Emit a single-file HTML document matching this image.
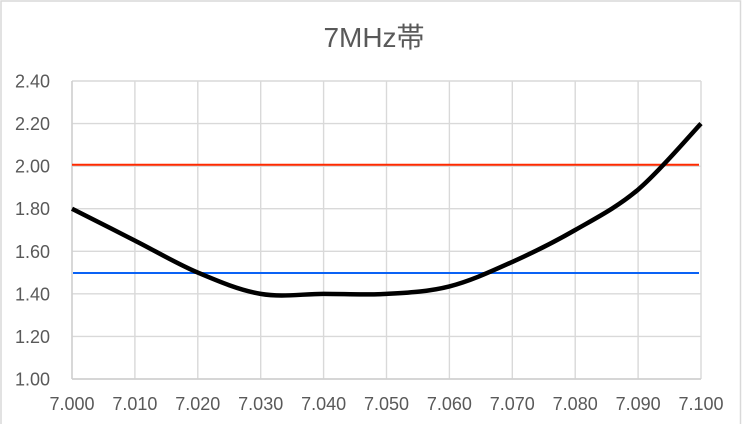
<!DOCTYPE html>
<html>
<head>
<meta charset="utf-8">
<style>
html,body{margin:0;padding:0;background:#fff;}
body{width:747px;height:424px;overflow:hidden;}
svg{display:block;}
text{font-family:"Liberation Sans","Noto Sans CJK JP",sans-serif;fill:#595959;}
</style>
</head>
<body>
<svg width="747" height="424" viewBox="0 0 747 424" xmlns="http://www.w3.org/2000/svg">
<rect x="0" y="0" width="747" height="424" fill="#fff"/>
<rect x="1" y="1" width="739.5" height="440" fill="none" stroke="#d9d9d9" stroke-width="1.5"/>
<text x="374" y="47" font-size="28" text-anchor="middle">7MHz帯</text>
<g stroke="#d9d9d9" stroke-width="1.4" fill="none">
<line x1="72" y1="81" x2="701" y2="81"/>
<line x1="72" y1="123.57" x2="701" y2="123.57"/>
<line x1="72" y1="166.14" x2="701" y2="166.14"/>
<line x1="72" y1="208.71" x2="701" y2="208.71"/>
<line x1="72" y1="251.29" x2="701" y2="251.29"/>
<line x1="72" y1="293.86" x2="701" y2="293.86"/>
<line x1="72" y1="336.43" x2="701" y2="336.43"/>
<line x1="72" y1="379" x2="701" y2="379"/>
<line x1="72" y1="81" x2="72" y2="379"/>
<line x1="134.9" y1="81" x2="134.9" y2="379"/>
<line x1="197.8" y1="81" x2="197.8" y2="379"/>
<line x1="260.7" y1="81" x2="260.7" y2="379"/>
<line x1="323.6" y1="81" x2="323.6" y2="379"/>
<line x1="386.5" y1="81" x2="386.5" y2="379"/>
<line x1="449.4" y1="81" x2="449.4" y2="379"/>
<line x1="512.3" y1="81" x2="512.3" y2="379"/>
<line x1="575.2" y1="81" x2="575.2" y2="379"/>
<line x1="638.1" y1="81" x2="638.1" y2="379"/>
<line x1="701" y1="81" x2="701" y2="379"/>
</g>
<line x1="72" y1="379" x2="701" y2="379" stroke="#cfcfcf" stroke-width="1.5"/>
<line x1="72" y1="81" x2="72" y2="379" stroke="#cfcfcf" stroke-width="1.5"/>
<g font-size="18" text-anchor="end">
<text x="50" y="87.5">2.40</text>
<text x="50" y="130.1">2.20</text>
<text x="50" y="172.6">2.00</text>
<text x="50" y="215.2">1.80</text>
<text x="50" y="257.8">1.60</text>
<text x="50" y="300.4">1.40</text>
<text x="50" y="342.9">1.20</text>
<text x="50" y="385.5">1.00</text>
</g>
<g font-size="18" text-anchor="middle">
<text x="72" y="410">7.000</text>
<text x="134.9" y="410">7.010</text>
<text x="197.8" y="410">7.020</text>
<text x="260.7" y="410">7.030</text>
<text x="323.6" y="410">7.040</text>
<text x="386.5" y="410">7.050</text>
<text x="449.4" y="410">7.060</text>
<text x="512.3" y="410">7.070</text>
<text x="575.2" y="410">7.080</text>
<text x="638.1" y="410">7.090</text>
<text x="701" y="410">7.100</text>
</g>
<line x1="72" y1="164.8" x2="699" y2="164.8" stroke="#ff2a00" stroke-width="2"/>
<line x1="73" y1="273" x2="699" y2="273" stroke="#0a62f5" stroke-width="2"/>
<path d="M72,208.7 C82.48,214.02 113.93,229.95 134.9,240.6 C155.87,251.25 176.83,263.72 197.8,272.6 C218.77,281.48 239.73,290.35 260.7,293.9 C281.67,297.45 302.63,293.9 323.6,293.9 C344.57,293.9 365.53,295.15 386.5,293.9 C407.47,292.65 428.43,291.73 449.4,286.4 C470.37,281.07 491.33,271.3 512.3,261.9 C533.27,252.5 554.23,242.05 575.2,230.0 C596.17,217.95 617.13,207.33 638.1,189.6 C659.07,171.87 690.52,134.6 701,123.6" fill="none" stroke="#000" stroke-width="4.5" stroke-linejoin="round"/>
</svg>
</body>
</html>
